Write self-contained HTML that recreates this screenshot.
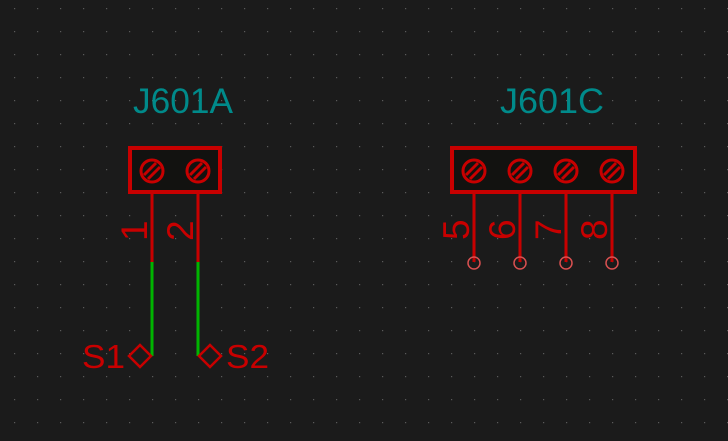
<!DOCTYPE html>
<html><head><style>html,body{margin:0;padding:0;background:#1b1b1b;}svg{display:block}</style></head>
<body>
<svg width="728" height="441" viewBox="0 0 728 441" xmlns="http://www.w3.org/2000/svg">
<defs>
<pattern id="g" x="14" y="8" width="23" height="23" patternUnits="userSpaceOnUse">
<rect x="0" y="0" width="1.2" height="1.2" fill="#5a5a5a"/>
</pattern>
<g id="screw">
<circle r="11" fill="none" stroke="#c80000" stroke-width="3"/>
<line x1="-8" y1="4" x2="4" y2="-8" stroke="#c80000" stroke-width="3"/>
<line x1="-4" y1="8" x2="8" y2="-4" stroke="#c80000" stroke-width="3"/>
</g>
</defs>
<rect width="728" height="441" fill="#1b1b1b"/>
<rect width="728" height="441" fill="url(#g)"/>
<g font-family="Liberation Sans, sans-serif">
<text x="133" y="113" font-size="35" fill="#008a8a" textLength="100" lengthAdjust="spacingAndGlyphs">J601A</text>
<text x="500" y="113" font-size="35" fill="#008a8a" textLength="104" lengthAdjust="spacingAndGlyphs">J601C</text>

<rect x="130" y="148" width="90" height="44" fill="#121210" stroke="#c80000" stroke-width="4"/>
<use href="#screw" x="152" y="171"/><use href="#screw" x="198" y="171"/>
<line x1="152" y1="194" x2="152" y2="262" stroke="#c80000" stroke-width="3"/>
<line x1="198" y1="194" x2="198" y2="262" stroke="#c80000" stroke-width="3"/>
<line x1="152" y1="262" x2="152" y2="356" stroke="#00b400" stroke-width="3"/>
<line x1="198" y1="262" x2="198" y2="356" stroke="#00b400" stroke-width="3"/>
<polygon points="140,345 151,356 140,367 129,356" fill="none" stroke="#c80000" stroke-width="2.5"/>
<polygon points="210,345 221,356 210,367 199,356" fill="none" stroke="#c80000" stroke-width="2.5"/>
<text x="82" y="368" font-size="33" fill="#c80000" textLength="43" lengthAdjust="spacingAndGlyphs">S1</text>
<text x="226" y="368" font-size="33" fill="#c80000" textLength="43" lengthAdjust="spacingAndGlyphs">S2</text>
<text transform="translate(147,241) rotate(-90)" font-size="37" fill="#c80000">1</text>
<text transform="translate(193,241) rotate(-90)" font-size="37" fill="#c80000">2</text>

<rect x="452" y="148" width="183" height="44" fill="#121210" stroke="#c80000" stroke-width="4"/>
<use href="#screw" x="474" y="171"/><use href="#screw" x="520" y="171"/>
<use href="#screw" x="566" y="171"/><use href="#screw" x="612" y="171"/>
<g stroke="#c80000" stroke-width="3">
<line x1="474" y1="194" x2="474" y2="262"/><line x1="520" y1="194" x2="520" y2="262"/>
<line x1="566" y1="194" x2="566" y2="262"/><line x1="612" y1="194" x2="612" y2="262"/>
</g>
<g fill="none" stroke="#d85050" stroke-width="1.5">
<circle cx="474" cy="263" r="6"/><circle cx="520" cy="263" r="6"/>
<circle cx="566" cy="263" r="6"/><circle cx="612" cy="263" r="6"/>
</g>
<text transform="translate(469,240) rotate(-90)" font-size="37" fill="#c80000">5</text>
<text transform="translate(515,240) rotate(-90)" font-size="37" fill="#c80000">6</text>
<text transform="translate(561,240) rotate(-90)" font-size="37" fill="#c80000">7</text>
<text transform="translate(607,240) rotate(-90)" font-size="37" fill="#c80000">8</text>
</g>
</svg>
</body></html>
